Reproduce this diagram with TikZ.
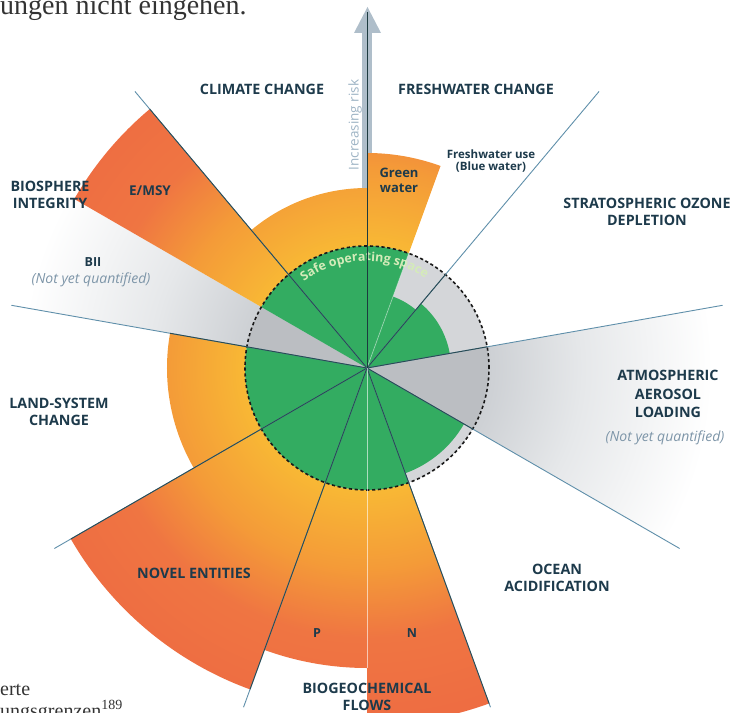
\documentclass[tikz,border=0pt]{standalone}
\usepackage{fontspec}
\setmainfont{Liberation Serif}
\setsansfont{Open Sans}
\usetikzlibrary{decorations.text}

\definecolor{boundtext}{HTML}{1D3A4B}
\definecolor{notetext}{HTML}{7D95A8}
\definecolor{risktext}{HTML}{9DB3C4}
\definecolor{safegreen}{HTML}{33AC61}
\definecolor{safetext}{HTML}{D4EBB9}
\definecolor{innergray}{HTML}{D4D6D9}
\definecolor{deepgray}{HTML}{BBBEC2}
\definecolor{riskA}{HTML}{F8B835}
\definecolor{riskB}{HTML}{F49B38}
\definecolor{riskC}{HTML}{EF7542}
\definecolor{riskD}{HTML}{EE6C42}
\definecolor{fadeA}{HTML}{CDD0D4}
\definecolor{fadeB}{HTML}{E6E8EA}
\definecolor{spoke}{HTML}{5F8FAA}
\definecolor{spokedark}{HTML}{1C3A3F}
\definecolor{arrowgray}{HTML}{AFBECA}
\definecolor{pagegray}{HTML}{333333}

% radial colour runs, 25bp = 360pt from the centre
\pgfdeclareradialshading{riskshade}{\pgfpointorigin}{color(0bp)=(riskA); color(8.5bp)=(riskA); color(13.9bp)=(riskB); color(18.75bp)=(riskC); color(25bp)=(riskD); color(50bp)=(riskD)}
\pgfdeclareradialshading{fadeshade}{\pgfpointorigin}{color(0bp)=(fadeA); color(8.5bp)=(fadeA); color(15bp)=(fadeB); color(24bp)=(white); color(50bp)=(white)}

\tikzset{
  bound/.style={font=\sffamily\bfseries\fontsize{14.3}{17.5}\selectfont, text=boundtext, align=center, inner sep=0pt},
  subbound/.style={font=\sffamily\bfseries\fontsize{12.5}{15}\selectfont, text=boundtext, align=center, inner sep=0pt},
  notq/.style={font=\sffamily\itshape\fontsize{14}{15}\selectfont, text=notetext, inner sep=0pt},
  pagetext/.style={text=pagegray, anchor=base west, inner sep=0pt},
}

\begin{document}
\begin{tikzpicture}[x=1pt, y=1pt]
  \useasboundingbox (-367,-344) rectangle (366,368);
  \clip (-367,-344) rectangle (366,368);

  % risk arrow
  \fill[arrowgray] (-5,0) rectangle (5,335);
  \fill[arrowgray] (-13,335) -- (0.5,361) -- (14,335) -- cycle;

  % not quantified
  \foreach \a/\b in {150/170, -30/10} {
    \begin{scope}
      \clip (0,0) -- (\a:361) arc[start angle=\a, end angle=\b, radius=361] -- cycle;
      \shade[shading=fadeshade] (0,0) circle (360);
    \end{scope}
  }

  % beyond the boundary
  \foreach \a/\b/\r in {70/90/215, 90/130/180, 130/150/338, 170/210/200, 210/250/342, 250/270/300, 270/290/357} {
    \begin{scope}
      \clip (0,0) -- (\a:\r) arc[start angle=\a, end angle=\b, radius=\r] -- cycle;
      \shade[shading=riskshade] (0,0) circle (360);
    \end{scope}
  }

  % safe operating space
  \fill[innergray] (0,0) circle (122);
  \foreach \a/\b in {150/170, -30/10}
    \fill[deepgray] (0,0) -- (\a:122) arc[start angle=\a, end angle=\b, radius=122] -- cycle;
  \foreach \a/\b/\r in {10/50/84, 50/70/76, 70/150/122, 170/290/122, 290/330/112}
    \fill[safegreen] (0,0) -- (\a:\r) arc[start angle=\a, end angle=\b, radius=\r] -- cycle;

  \path[decorate, decoration={text along path, text align=center, text color=safetext,
      text={|\sffamily\bfseries\fontsize{12.5}{12.5}\selectfont|Safe operating space}}]
    (151.5:107) arc[start angle=151.5, end angle=31.5, radius=107];

  \draw[black!90, line width=1.6, dash pattern=on 3.2pt off 2.6pt] (0,0) circle (122);

  % spokes
  \foreach \a/\r in {10/122, 50/122, 130/338, 170/200, 210/342, 250/342, 290/357, 330/122} {
    \draw[spoke, line width=0.9] (0,0) -- (\a:361);
    \draw[spokedark, opacity=0.8, line width=0.9] (0,0) -- (\a:\r);
  }
  \draw[white, opacity=0.6, line width=1] (0,0) -- (270:300);
  \draw[white, opacity=0.4, line width=0.8] (0,0) -- (70:122);
  \draw[spokedark, line width=1] (0,0) -- (0,356);

  % boundaries
  \node[bound] (climate) at (-105,279) {CLIMATE CHANGE};
  \node[bound] (fresh) at (109,279) {FRESHWATER CHANGE};
  \node[subbound, font=\sffamily\bfseries\fontsize{11.5}{12.5}\selectfont] (blue) at (124,207) {Freshwater use\\(Blue water)};
  \node[subbound, font=\sffamily\bfseries\fontsize{13}{15}\selectfont] (green) at (32,188) {Green\\water};
  \node[bound] (ozone) at (280,156) {STRATOSPHERIC OZONE\\DEPLETION};
  \node[bound] (bio) at (-317,173) {BIOSPHERE\\INTEGRITY};
  \node[subbound, font=\sffamily\bfseries\fontsize{13.5}{15}\selectfont] (emsy) at (-217,177) {E/MSY};
  \node[subbound] (bii) at (-274,106) {BII};
  \node[notq] (biinote) at (-276,88) {(Not yet quantified)};
  \node[bound] (land) at (-308,-44) {LAND-SYSTEM\\CHANGE};
  \node[bound] (novel) at (-173,-205) {NOVEL ENTITIES};
  \node[subbound] (phos) at (-50,-265) {P};
  \node[subbound] (nitro) at (45,-265) {N};
  \node[bound] (biogeo) at (0,-329) {BIOGEOCHEMICAL\\FLOWS};
  \node[bound, font=\sffamily\bfseries\fontsize{14.3}{18.5}\selectfont] (aerosol) at (301,-26) {ATMOSPHERIC\\AEROSOL\\LOADING};
  \node[notq] (aernote) at (298,-70) {(Not yet quantified)};
  \node[bound] (ocean) at (190,-210) {OCEAN\\ACIDIFICATION};
  \node[rotate=90, font=\sffamily\fontsize{13.5}{13.5}\selectfont, text=risktext, inner sep=0pt] (risk) at (-12,243) {Increasing risk};

  % running text of the page
  \node[pagetext, font=\fontsize{28}{30}\selectfont] (pagetop) at (-367,353) {ungen nicht eingehen.};
  \node[pagetext, font=\fontsize{20}{22}\selectfont] (pageend) at (-367,-327) {erte};
  \node[pagetext, font=\fontsize{20}{22}\selectfont] (pagenote) at (-367,-349) {ungsgrenzen\textsuperscript{189}};
\end{tikzpicture}
\end{document}
